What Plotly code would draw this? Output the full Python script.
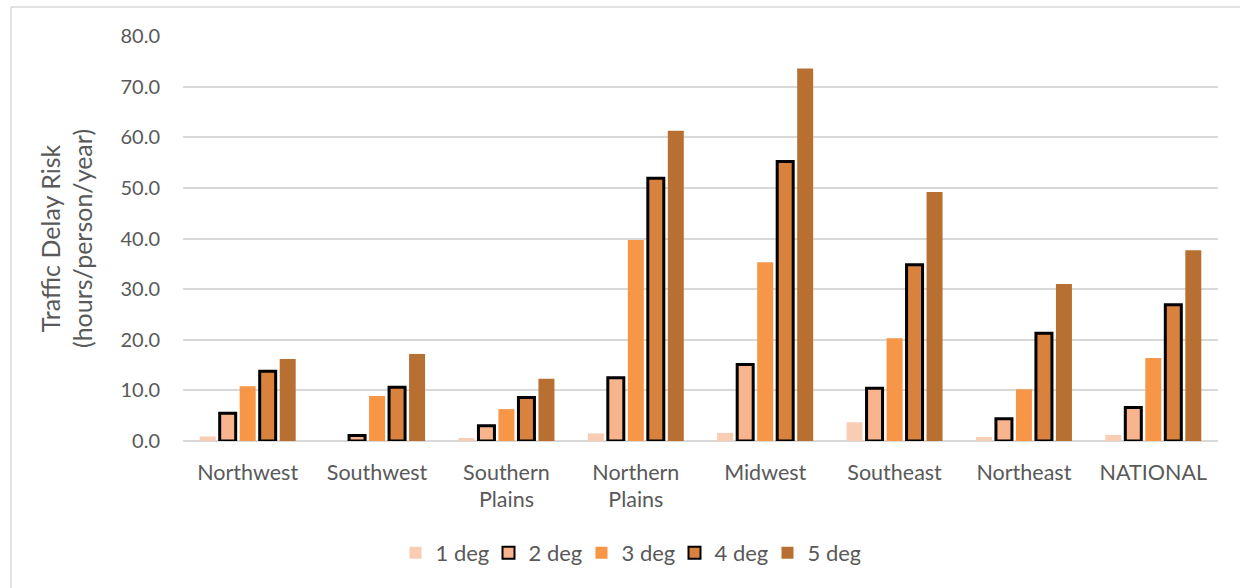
import plotly.graph_objects as go

# Regions on the x axis
regions = ["Northwest", "Southwest", "Southern<br>Plains", "Northern<br>Plains",
           "Midwest", "Southeast", "Northeast", "NATIONAL"]

# Traffic delay risk (hours/person/year) per warming level
deg1 = [0.9, 0.0, 0.6, 1.5, 1.6, 3.7, 0.8, 1.2]
deg2 = [5.5, 1.1, 3.0, 12.5, 15.1, 10.4, 4.4, 6.6]
deg3 = [10.8, 8.9, 6.3, 39.7, 35.3, 20.3, 10.2, 16.4]
deg4 = [13.8, 10.6, 8.6, 51.9, 55.2, 34.8, 21.3, 26.9]
deg5 = [16.2, 17.2, 12.3, 61.3, 73.6, 49.2, 31.0, 37.7]

series_names = ["1 deg", "2 deg", "3 deg", "4 deg", "5 deg"]
series_values = [deg1, deg2, deg3, deg4, deg5]
series_colors = ["#F9CDB3", "#F8B48D", "#F79646", "#D8823E", "#B87032"]
outlined = [False, True, False, True, False]

y_ticks = [0, 10, 20, 30, 40, 50, 60, 70, 80]

FONT = "Lato, 'Open Sans', sans-serif"
TEXT = "#595959"
GRID = "#D9D9D9"

fig = go.Figure()
for name, vals, col, edge in zip(series_names, series_values, series_colors, outlined):
    fig.add_trace(go.Bar(
        name=name, x=regions, y=vals,
        marker=dict(color=col,
                    line=dict(color="#000000" if edge else col, width=3 if edge else 0)),
        hoverinfo="x+y+name",
    ))

# plot-area geometry in pixels (used for the outer frame lines and legend)
W, H = 1240, 588
L, R, T, B = 183, 22, 36, 147
pw, ph = W - L - R, H - T - B


def px(x):
    return (x - L) / pw


def py(y):
    return (H - B - y) / ph


fig.update_layout(
    width=W, height=H,
    margin=dict(l=L, r=R, t=T, b=B, pad=0),
    paper_bgcolor="white", plot_bgcolor="white",
    barmode="group", bargap=0.227, bargroupgap=0.2,
    font=dict(family=FONT, size=20, color=TEXT),
    showlegend=True,
    legend=dict(orientation="h", x=px(628), xanchor="center", y=py(553), yanchor="middle",
                font=dict(family=FONT, size=22, color=TEXT),
                entrywidth=48, entrywidthmode="pixels",
                itemsizing="constant", traceorder="normal"),
    shapes=[
        dict(type="line", xref="paper", yref="paper", x0=px(11), x1=px(11),
             y0=py(7), y1=py(H + 5), line=dict(color=GRID, width=1.5)),
        dict(type="line", xref="paper", yref="paper", x0=px(11), x1=px(W + 5),
             y0=py(7), y1=py(7), line=dict(color=GRID, width=1.5)),
    ],
)

fig.update_xaxes(
    showgrid=False, showline=False, zeroline=False, ticks="",
    tickfont=dict(family=FONT, size=21.5, color=TEXT),
    ticklabelstandoff=16,
)
fig.update_yaxes(
    range=[0, 80], tickvals=y_ticks, tickformat=".1f",
    showgrid=True, gridcolor=GRID, gridwidth=1.5,
    zeroline=True, zerolinecolor=GRID, zerolinewidth=1.5,
    showline=False, ticks="",
    tickfont=dict(family=FONT, size=20, color=TEXT),
    ticklabelstandoff=22,
    title=dict(text="Traffic Delay Risk<br>(hours/person/year)",
               font=dict(family=FONT, size=25, color=TEXT), standoff=20),
)

fig.write_html("out.html")
